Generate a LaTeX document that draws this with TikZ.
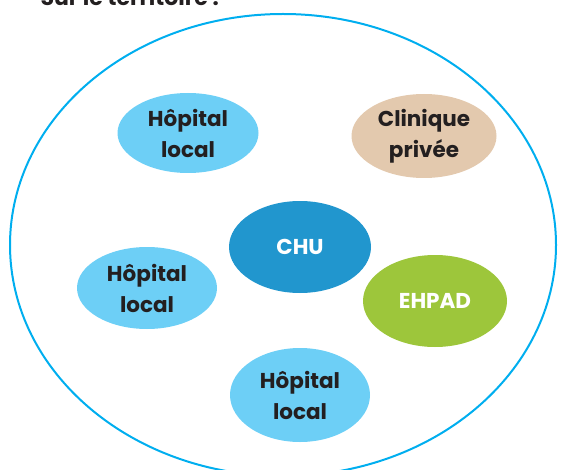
\documentclass[tikz,border=0pt]{standalone}
\usepackage{fontspec}
\setmainfont{Poppins}
\usetikzlibrary{shapes.geometric}
\definecolor{outline}{HTML}{00AEEF}
\definecolor{hopital}{HTML}{6DCFF6}
\definecolor{clinique}{HTML}{E3C9AE}
\definecolor{chu}{HTML}{2196CE}
\definecolor{ehpad}{HTML}{9DC63B}
\definecolor{textdark}{HTML}{231F20}
\begin{document}
\begin{tikzpicture}[
  x=1pt, y=-1pt,
  every node/.style={font=\bfseries\fontsize{21.5}{31}\selectfont, align=center},
  site/.style={ellipse, inner sep=0pt, text=textdark},
  darksite/.style={site, text=white}
]
\useasboundingbox (0,0) rectangle (561,470);
\clip (0,0) rectangle (561,470);

\node[anchor=base west, font=\bfseries\fontsize{22}{26}\selectfont, text=textdark] (titre) at (37,6) {Sur le territoire :};

\draw[outline, line width=2pt] (283,245) ellipse [x radius=273, y radius=231]; % territoire

\node[site, fill=hopital, minimum width=141pt, minimum height=80pt] (hopA) at (188,133) {Hôpital\\local};
\node[site, fill=clinique, minimum width=145pt, minimum height=84pt] (clinique) at (424,136) {Clinique\\privée};
\node[darksite, fill=chu, minimum width=142pt, minimum height=92pt] (chu) at (300,247) {CHU};
\node[site, fill=hopital, minimum width=140pt, minimum height=82pt] (hopB) at (147,288) {Hôpital\\local};
\node[darksite, fill=ehpad, minimum width=144pt, minimum height=92pt] (ehpad) at (435,301) {EHPAD};
\node[site, fill=hopital, minimum width=140pt, minimum height=94pt] (hopC) at (300,395) {Hôpital\\local};
\end{tikzpicture}
\end{document}
